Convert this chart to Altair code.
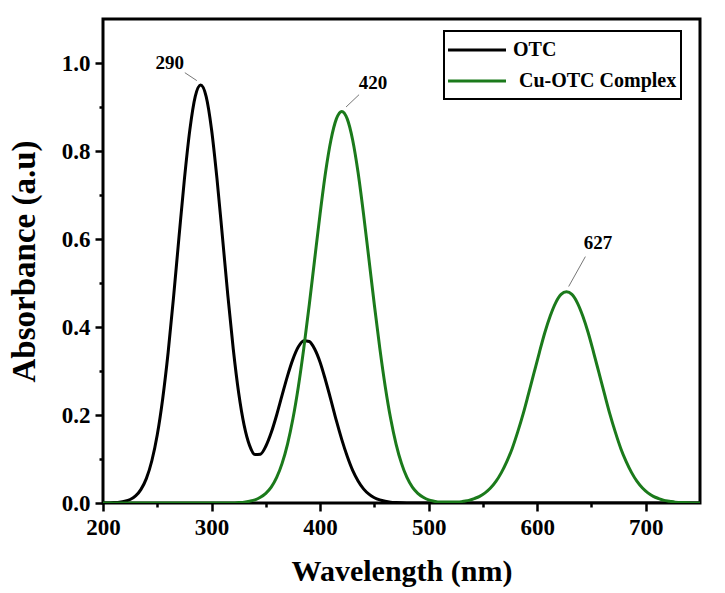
import altair as alt
import pandas as pd

# --- spectra -------------------------------------------------------------
series_names = ["OTC", "Cu-OTC Complex"]
series_colors = ["#000000", "#1b7a1b"]

otc_nm = [200, 205, 210, 215, 220, 225, 230, 235, 240, 245, 250, 255, 260, 265,
          270, 275, 280, 285, 290, 295, 300, 305, 310, 315, 320, 325, 330, 335,
          340, 345, 350, 355, 360, 365, 370, 375, 380, 385, 390, 395, 400, 405,
          410, 415, 420, 425, 430, 435, 440, 445, 450, 455, 460, 465, 470, 480,
          490, 550, 600, 650, 700, 750]
otc_abs = [0.000, 0.000, 0.001, 0.002, 0.004, 0.008, 0.016, 0.031, 0.056, 0.096,
           0.155, 0.237, 0.342, 0.468, 0.604, 0.736, 0.848, 0.924, 0.950, 0.924,
           0.849, 0.737, 0.606, 0.472, 0.350, 0.250, 0.177, 0.131, 0.110, 0.111,
           0.129, 0.160, 0.200, 0.245, 0.289, 0.327, 0.355, 0.369, 0.367, 0.350,
           0.320, 0.279, 0.234, 0.187, 0.144, 0.106, 0.074, 0.050, 0.032, 0.020,
           0.012, 0.007, 0.004, 0.002, 0.001, 0.000, 0.000, 0.000, 0.000, 0.000,
           0.000, 0.000]

cu_nm = [200, 250, 300, 310, 320, 325, 330, 335, 340, 345, 350, 355, 360, 365,
         370, 375, 380, 385, 390, 395, 400, 405, 410, 415, 420, 425, 430, 435,
         440, 445, 450, 455, 460, 465, 470, 475, 480, 485, 490, 495, 500, 505,
         510, 515, 522, 527, 532, 537, 542, 547, 552, 557, 562, 567, 572, 577,
         582, 587, 592, 597, 602, 607, 612, 617, 622, 627, 632, 637, 642, 647,
         652, 657, 662, 667, 672, 677, 682, 687, 692, 697, 702, 707, 712, 717,
         722, 727, 732, 737, 742, 750]
cu_abs = [0.000, 0.000, 0.000, 0.000, 0.000, 0.001, 0.002, 0.004, 0.007, 0.013,
          0.022, 0.036, 0.058, 0.090, 0.134, 0.192, 0.265, 0.352, 0.450, 0.554,
          0.657, 0.751, 0.825, 0.873, 0.890, 0.873, 0.825, 0.751, 0.657, 0.554,
          0.450, 0.352, 0.265, 0.192, 0.134, 0.090, 0.058, 0.036, 0.022, 0.013,
          0.007, 0.004, 0.002, 0.002, 0.002, 0.002, 0.004, 0.006, 0.010, 0.015,
          0.023, 0.034, 0.049, 0.069, 0.094, 0.124, 0.161, 0.202, 0.248, 0.295,
          0.342, 0.387, 0.425, 0.455, 0.474, 0.480, 0.474, 0.455, 0.425, 0.387,
          0.342, 0.295, 0.248, 0.202, 0.161, 0.124, 0.094, 0.069, 0.049, 0.034,
          0.023, 0.015, 0.010, 0.006, 0.004, 0.002, 0.001, 0.001, 0.000, 0.000]

# --- peak labels -----------------------------------------------------------
peak_nm = [290, 420, 627]
peak_abs = [0.950, 0.890, 0.480]

# leader line and label placement relative to each peak (nm, absorbance)
leader_start = [(-3.6, 0.010), (3.9, 0.010), (2.0, 0.012)]
leader_end = [(-14.6, 0.028), (15.9, 0.038), (17.4, 0.080)]
label_pos = [(-28.5, 0.051), (28.8, 0.065), (29.0, 0.112)]

FONT = "Liberation Serif"

spectra = pd.concat([
    pd.DataFrame({"wavelength": otc_nm, "absorbance": otc_abs, "series": series_names[0]}),
    pd.DataFrame({"wavelength": cu_nm, "absorbance": cu_abs, "series": series_names[1]}),
], ignore_index=True)

peaks = pd.DataFrame({
    "label": [str(p) for p in peak_nm],
    "x1": [p + s[0] for p, s in zip(peak_nm, leader_start)],
    "y1": [a + s[1] for a, s in zip(peak_abs, leader_start)],
    "x2": [p + e[0] for p, e in zip(peak_nm, leader_end)],
    "y2": [a + e[1] for a, e in zip(peak_abs, leader_end)],
    "tx": [p + t[0] for p, t in zip(peak_nm, label_pos)],
    "ty": [a + t[1] for a, t in zip(peak_abs, label_pos)],
})

x_scale = alt.Scale(domain=[200, 750], nice=False, zero=False)
y_scale = alt.Scale(domain=[0, 1.1], nice=False, zero=False)

x_axis = alt.Axis(
    title="Wavelength (nm)",
    values=list(range(200, 701, 50)),
    format="d",
    labelExpr="datum.value % 100 === 0 ? datum.label : ''",
    tickSize={"condition": {"test": "datum.value % 100 === 0", "value": 8}, "value": 4},
    labelFlush=False,
    labelOverlap=False,
    labelPadding=5,
    titleFontSize=30,
    titlePadding=17,
)
y_axis = alt.Axis(
    title="Absorbance (a.u)",
    values=[round(v * 0.1, 1) for v in range(0, 11)],
    format=".1f",
    labelExpr="round(datum.value * 10) % 2 === 0 ? datum.label : ''",
    tickSize={"condition": {"test": "round(datum.value * 10) % 2 === 0", "value": 8}, "value": 4},
    labelOverlap=False,
    labelPadding=5,
    titleFontSize=33,
    titlePadding=20,
)

lines = alt.Chart(spectra).mark_line(strokeWidth=3, interpolate="monotone", clip=True).encode(
    x=alt.X("wavelength:Q", scale=x_scale, axis=x_axis),
    y=alt.Y("absorbance:Q", scale=y_scale, axis=y_axis),
    color=alt.Color("series:N", scale=alt.Scale(domain=series_names, range=series_colors), legend=None),
    detail="series:N",
)

leaders = alt.Chart(peaks).mark_rule(color="#777777", strokeWidth=1).encode(
    x=alt.X("x1:Q", scale=x_scale), y=alt.Y("y1:Q", scale=y_scale),
    x2="x2:Q", y2="y2:Q",
)

labels = alt.Chart(peaks).mark_text(
    font=FONT, fontSize=19, fontWeight="bold", color="black", baseline="middle", align="center"
).encode(
    x=alt.X("tx:Q", scale=x_scale), y=alt.Y("ty:Q", scale=y_scale), text="label:N",
)

# legend box drawn in the upper right of the plot area
legend_layers = [
    alt.Chart(pd.DataFrame({"k": [0]})).mark_rect(
        fill="white", stroke="black", strokeWidth=2
    ).encode(x=alt.value(341), x2=alt.value(578), y=alt.value(12), y2=alt.value(80))
]
legend_rows = [31, 62]
legend_text_x = [410, 416]
for name, color, ly, tx in zip(series_names, series_colors, legend_rows, legend_text_x):
    legend_layers.append(
        alt.Chart(pd.DataFrame({"k": [0]})).mark_rule(color=color, strokeWidth=3).encode(
            x=alt.value(345), x2=alt.value(403), y=alt.value(ly)
        )
    )
    legend_layers.append(
        alt.Chart(pd.DataFrame({"k": [0]})).mark_text(
            text=name, font=FONT, fontSize=20, fontWeight="bold", color="black",
            align="left", baseline="middle"
        ).encode(x=alt.value(tx), y=alt.value(ly))
    )

chart = alt.layer(lines, leaders, labels, *legend_layers).properties(
    width=597,
    height=484,
    autosize=alt.AutoSizeParams(type="none"),
    padding={"left": 103, "top": 19, "right": 25, "bottom": 90},
    background="white",
).configure_view(
    stroke="black", strokeWidth=3
).configure_axis(
    domain=False,
    grid=False,
    tickColor="black",
    tickWidth=2.5,
    labelFont=FONT,
    labelFontSize=23,
    labelFontWeight="bold",
    labelColor="black",
    titleFont=FONT,
    titleFontWeight="bold",
    titleColor="black",
)

chart.save("out.html", embed_options={"renderer": "svg", "actions": False})
